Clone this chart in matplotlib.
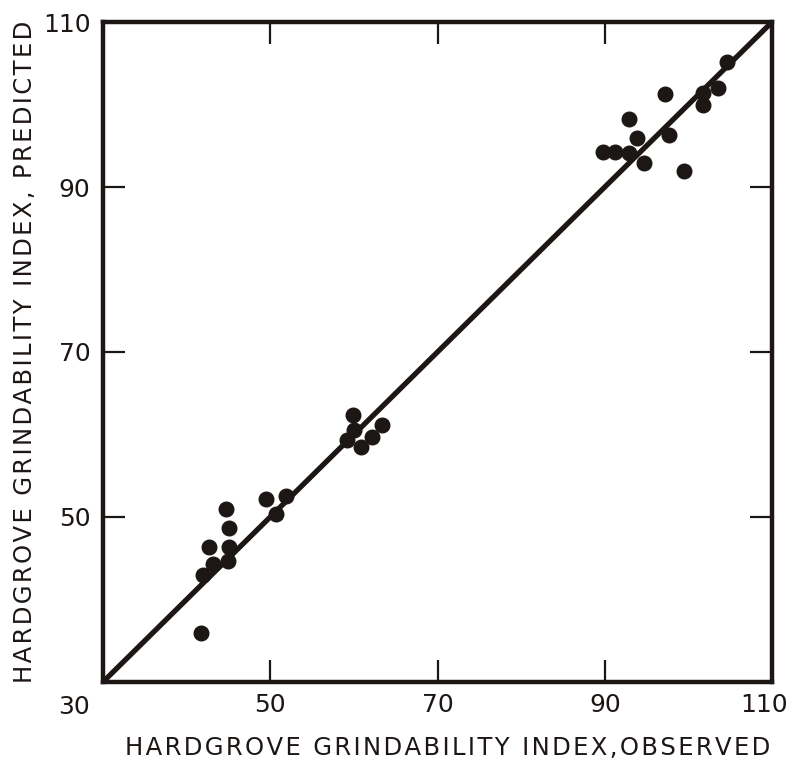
import matplotlib.pyplot as plt
import matplotlib.transforms as mtransforms
import numpy as np

# observed vs predicted Hardgrove grindability index
observed = [41.7, 41.9, 43.1, 42.7, 44.9, 45.1, 45.1, 44.7,
            49.5, 50.7, 51.9,
            59.9, 60.0, 59.2, 60.8, 62.2, 63.4,
            89.8, 91.2, 92.9, 92.9, 93.9, 94.7, 97.2, 97.7, 99.5,
            101.7, 101.7, 103.5, 104.6]
predicted = [35.9, 43.0, 44.3, 46.3, 44.6, 46.4, 48.6, 50.9,
             52.2, 50.4, 52.5,
             62.4, 60.5, 59.3, 58.5, 59.7, 61.2,
             94.3, 94.3, 94.1, 98.3, 95.9, 92.9, 101.3, 96.3, 91.9,
             101.4, 99.9, 102.0, 105.2]

ticks = [50, 70, 90, 110]
ink = "#1c1714"


def spaced(s):
    # open up the lettering a little with hair spaces
    return "\u200a".join(s)


fig = plt.figure(figsize=(7.93, 7.61), dpi=100)
ax = fig.add_axes([0.130, 0.104, 0.8435, 0.867])

# 1:1 line
ax.plot([30, 110], [30, 110], color=ink, lw=3.8, solid_capstyle="butt", zorder=2)
ax.plot(observed, predicted, "o", color=ink, ms=10.5, mec=ink, zorder=3)

ax.set_xlim(30, 110)
ax.set_ylim(30, 110)
ax.set_xticks(ticks)
ax.set_yticks(ticks)
ax.set_xticklabels([str(t) for t in ticks])
ax.set_yticklabels([str(t) for t in ticks])

for s in ax.spines.values():
    s.set_linewidth(3.2)
    s.set_color(ink)

ax.tick_params(direction="in", length=16, width=1.6, color=ink,
               top=True, right=True, labelsize=18, labelcolor=ink, pad=9)
ax.tick_params(axis="x", pad=8)

# pull the last x label in from the figure edge
last = ax.get_xticklabels()[-1]
last.set_transform(last.get_transform() +
                   mtransforms.ScaledTranslation(-6 / 72, 0, fig.dpi_scale_trans))

# shared corner label
ax.text(-0.044, -0.020, "30", transform=ax.transAxes, ha="center", va="top",
        fontsize=18, color=ink)

ax.set_xlabel(spaced("HARDGROVE GRINDABILITY INDEX,OBSERVED"), fontsize=17.5,
              color=ink, labelpad=8)
ax.xaxis.set_label_coords(0.515, -0.082)
ax.set_ylabel(spaced("HARDGROVE GRINDABILITY INDEX, PREDICTED"), fontsize=17.5,
              color=ink, labelpad=4)

fig.savefig("out.png", dpi=100)
